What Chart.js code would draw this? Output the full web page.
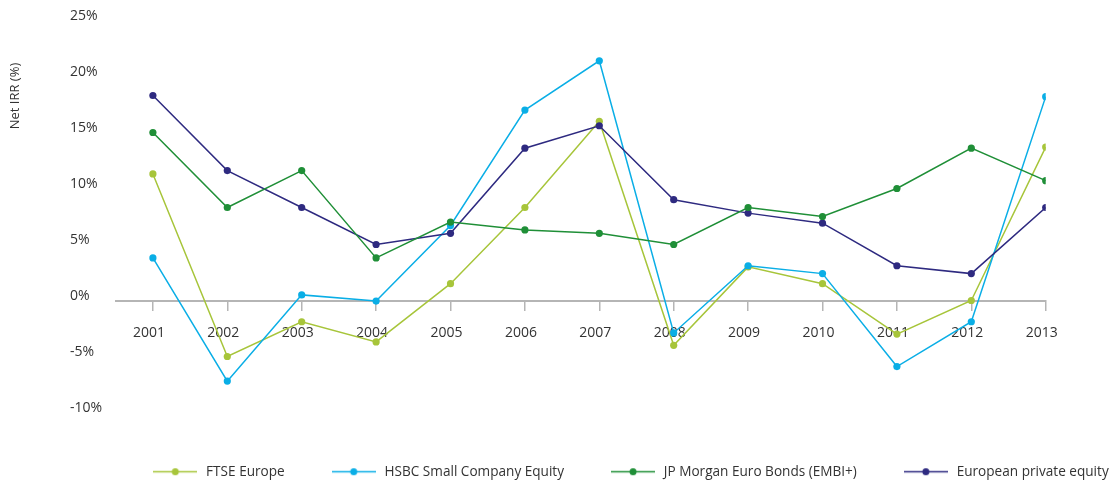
<!DOCTYPE html>
<html>
<head>
<meta charset="utf-8">
<script src="https://cdn.jsdelivr.net/npm/chart.js@4.4.1/dist/chart.umd.min.js"></script>
<style>
  html, body { margin: 0; padding: 0; background: #fff; }
</style>
</head>
<body>
<canvas id="irrChart" width="1111" height="481"></canvas>
<script>
// values, net IRR in %
const years = [2001, 2002, 2003, 2004, 2005, 2006, 2007, 2008, 2009, 2010, 2011, 2012, 2013]
const ftseEurope = [10.9, -5.4, -2.3, -4.1, 1.1, 7.9, 15.6, -4.4, 2.6, 1.1, -3.4, -0.4, 13.3]
const hsbcSmallCompany = [3.4, -7.6, 0.1, -0.45, 6.3, 16.6, 21.0, -3.3, 2.7, 2.0, -6.3, -2.3, 17.8]
const jpMorganEuroBonds = [14.6, 7.9, 11.2, 3.4, 6.6, 5.9, 5.6, 4.6, 7.9, 7.1, 9.6, 13.2, 10.3]
const europeanPrivateEquity = [17.9, 11.2, 7.9, 4.6, 5.6, 13.2, 15.2, 8.6, 7.4, 6.5, 2.7, 2.0, 7.9]

const seriesNames = ['FTSE Europe', 'HSBC Small Company Equity', 'JP Morgan Euro Bonds (EMBI+)', 'European private equity']
const seriesColors = ['#a7c53a', '#0aaee6', '#1f8f37', '#2e2a80']
const yMin = -10
const yMax = 25
const yStep = 5

Chart.defaults.font.family = '"Open Sans", sans-serif'
Chart.defaults.color = '#333'

function legendIcon(color) {
    const c = document.createElement('canvas')
    c.width = 44
    c.height = 9
    const g = c.getContext('2d')
    g.strokeStyle = color
    g.lineWidth = 1.5
    g.beginPath()
    g.moveTo(0, 4.5)
    g.lineTo(44, 4.5)
    g.stroke()
    g.fillStyle = color
    g.beginPath()
    g.arc(22, 4.5, 3.5, 0, Math.PI * 2)
    g.fill()
    return c
}
const icons = seriesColors.map(legendIcon)

function makeSet(i, values, order) {
    return {
        label: seriesNames[i],
        data: years.map((yr, k) => ({ x: yr, y: values[k] })),
        borderColor: seriesColors[i],
        backgroundColor: seriesColors[i],
        pointBackgroundColor: seriesColors[i],
        borderWidth: 1.5,
        pointRadius: 3.6,
        pointBorderWidth: 0,
        tension: 0,
        order
    }
}

// rotated axis caption sits high on the left, not centred on the axis
const yCaption = {
    id: 'yCaption',
    afterDraw(chart) {
        const ctx = chart.ctx
        ctx.save()
        ctx.translate(15, 96)
        ctx.rotate(-Math.PI / 2)
        ctx.font = '13px "Open Sans"'
        ctx.fillStyle = '#333'
        ctx.textAlign = 'center'
        ctx.textBaseline = 'middle'
        ctx.fillText('Net IRR (%)', 0, 0)
        ctx.restore()
    }
}

new Chart(document.getElementById('irrChart'), {
    type: 'line',
    data: {
        datasets: [
            makeSet(0, ftseEurope, 4),
            makeSet(1, hsbcSmallCompany, 3),
            makeSet(2, jpMorganEuroBonds, 1),
            makeSet(3, europeanPrivateEquity, 2)
        ]
    },
    options: {
        responsive: false,
        animation: false,
        devicePixelRatio: 1,
        layout: { padding: { left: 70, right: -79, top: 16, bottom: -7.5 } },
        scales: {
            x: {
                type: 'linear',
                min: 2000.5,
                max: 2013,
                position: { y: -0.45 },
                grid: { drawOnChartArea: false, tickLength: 9, color: '#b5b5b5', lineWidth: 1.5 },
                border: { color: '#b5b5b5', width: 2 },
                ticks: {
                    stepSize: 1,
                    includeBounds: false,
                    autoSkip: false,
                    maxRotation: 0,
                    padding: 15,
                    labelOffset: -4,
                    font: { size: 14 },
                    callback: v => String(v)
                }
            },
            y: {
                min: yMin,
                max: yMax,
                position: 'left',
                afterFit: s => { s.width = 45.7 },
                grid: { display: false },
                border: { display: false },
                ticks: { stepSize: yStep, crossAlign: 'far', font: { size: 14 }, callback: v => v + '%' }
            },
            yPad: {
                type: 'linear',
                position: 'right',
                afterFit: s => { s.width = 144.3 },
                grid: { display: false },
                border: { display: false },
                ticks: { display: false }
            }
        },
        plugins: {
            tooltip: { enabled: false },
            legend: {
                position: 'bottom',
                title: { display: true, text: '', padding: 0, font: { size: 11.9, lineHeight: 1 } },
                labels: {
                    usePointStyle: true,
                    pointStyleWidth: 48,
                    padding: 45,
                    font: { size: 13.6 },
                    sort: (a, b) => a.datasetIndex - b.datasetIndex,
                    generateLabels(chart) {
                        const items = Chart.defaults.plugins.legend.labels.generateLabels(chart)
                        items.forEach(it => { it.pointStyle = icons[it.datasetIndex] })
                        return items
                    }
                }
            }
        }
    },
    plugins: [yCaption]
})
</script>
</body>
</html>
